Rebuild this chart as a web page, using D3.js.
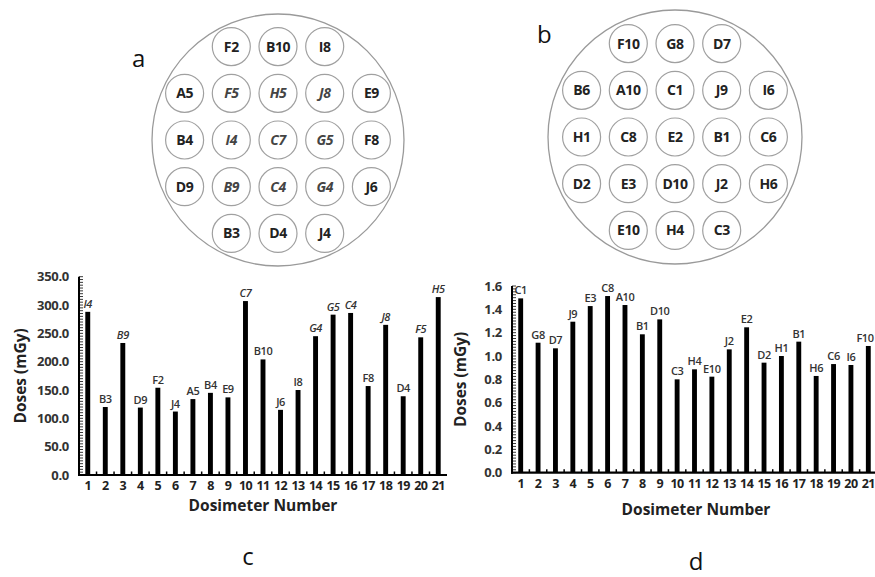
<!DOCTYPE html>
<html>
<head>
<meta charset="utf-8">
<script src="https://cdn.jsdelivr.net/npm/d3@7"></script>
<style>
  body { margin: 0; background: #fff; }
  svg { display: block; }
</style>
</head>
<body>
<script>
// layout of the phantom holes (row by row, null = empty)
const gridA = [
  [null, "F2", "B10", "I8", null],
  ["A5", "F5", "H5", "J8", "E9"],
  ["B4", "I4", "C7", "G5", "F8"],
  ["D9", "B9", "C4", "G4", "J6"],
  [null, "B3", "D4", "J4", null]
]
const italicA = ["F5", "H5", "J8", "I4", "C7", "G5", "B9", "C4", "G4"]

const gridB = [
  [null, "F10", "G8", "D7", null],
  ["B6", "A10", "C1", "J9", "I6"],
  ["H1", "C8", "E2", "B1", "C6"],
  ["D2", "E3", "D10", "J2", "H6"],
  [null, "E10", "H4", "C3", null]
]

// chart c
const dosimetersC = d3.range(1, 22)
const labelsC = ["I4", "B3", "B9", "D9", "F2", "J4", "A5", "B4", "E9", "C7", "B10",
  "J6", "I8", "G4", "G5", "C4", "F8", "J8", "D4", "F5", "H5"]
const dosesC = [288, 120, 233, 119, 154, 112, 134, 145, 137, 307, 204,
  115, 150, 245, 283, 286, 157, 265, 139, 243, 314]
const ticksC = [0, 50, 100, 150, 200, 250, 300, 350]

// chart d
const dosimetersD = d3.range(1, 22)
const labelsD = ["C1", "G8", "D7", "J9", "E3", "C8", "A10", "B1", "D10", "C3", "H4",
  "E10", "J2", "E2", "D2", "H1", "B1", "H6", "C6", "I6", "F10"]
const dosesD = [1.494, 1.114, 1.066, 1.294, 1.428, 1.514, 1.437, 1.186, 1.314, 0.80, 0.886,
  0.823, 1.057, 1.246, 0.943, 1.0, 1.123, 0.829, 0.931, 0.923, 1.086]
const ticksD = [0, 0.2, 0.4, 0.6, 0.8, 1.0, 1.2, 1.4, 1.6]

const width = 875, height = 577
const font = "'Open Sans', 'DejaVu Sans', sans-serif"

const svg = d3.select("body").append("svg")
  .attr("width", width)
  .attr("height", height)
  .style("font-family", font)

const drawPhantom = (grid, cx, cy, r, step, italics, letter, lx, ly) => {
  const g = svg.append("g")
  g.append("circle")
    .attr("cx", cx).attr("cy", cy).attr("r", r)
    .style("fill", "none").style("stroke", "#9a9a9a").style("stroke-width", 1.3)
  const cells = []
  grid.forEach((row, ri) => row.forEach((name, ci) => {
    if (name) cells.push({ name, ri, ci })
  }))
  const pos = d3.scaleLinear().domain([0, 4]).range([-2 * step, 2 * step])
  const cell = g.selectAll("g.cell").data(cells).enter().append("g")
    .attr("transform", d => `translate(${cx + pos(d.ci)},${cy + pos(d.ri)})`)
  cell.append("circle")
    .attr("r", 19)
    .style("fill", "none").style("stroke", "#a0a0a0").style("stroke-width", 1.2)
  cell.append("text")
    .attr("text-anchor", "middle")
    .attr("dy", "0.36em")
    .attr("font-size", 14)
    .attr("font-weight", "bold")
    .attr("letter-spacing", -0.4)
    .style("font-style", d => italics.includes(d.name) ? "italic" : "normal")
    .style("fill", d => italics.includes(d.name) ? "#444" : "#222")
    .text(d => d.name)
  svg.append("text")
    .attr("x", lx).attr("y", ly)
    .attr("font-size", 24)
    .style("fill", "#111")
    .text(letter)
}

drawPhantom(gridA, 278, 140, 126, 46.7, italicA, "a", 132, 67)
drawPhantom(gridB, 675, 137, 127, 46.7, [], "b", 537, 43)

const drawBars = (opt) => {
  const g = svg.append("g")
  const x = d3.scaleBand().domain(opt.cats).range([opt.x0, opt.x1]).paddingInner(0.72).paddingOuter(0.36)
  const y = d3.scaleLinear().domain([0, opt.max]).range([opt.y0, opt.y1])

  // bars
  g.selectAll("rect.bar").data(opt.values).enter().append("rect")
    .attr("x", (d, i) => x(opt.cats[i]))
    .attr("y", d => y(d))
    .attr("width", x.bandwidth())
    .attr("height", d => opt.y0 - y(d))
    .style("fill", "#000")

  // bar labels
  g.selectAll("text.lab").data(opt.values).enter().append("text")
    .attr("x", (d, i) => Math.min(x(opt.cats[i]) + x.bandwidth() / 2, width - 10))
    .attr("y", d => y(d) - 4)
    .attr("text-anchor", "middle")
    .attr("font-size", 11)
    .attr("font-weight", 600)
    .attr("letter-spacing", -0.4)
    .style("font-style", (d, i) => opt.italics.includes(opt.labels[i]) ? "italic" : "normal")
    .style("fill", "#333")
    .text((d, i) => opt.labels[i])

  // y axis, dense minor ticks pointing in
  const yAxis = g.append("g").attr("transform", `translate(${opt.x0},0)`)
  yAxis.selectAll("line.minor").data(d3.range(0, opt.max + opt.minor / 2, opt.minor)).enter()
    .append("line")
    .attr("x1", 0).attr("x2", 4)
    .attr("y1", d => y(d)).attr("y2", d => y(d))
    .style("stroke", "#222").style("stroke-width", 0.9)
  yAxis.append("line")
    .attr("x1", 0).attr("x2", 0).attr("y1", y(opt.max)).attr("y2", opt.y0 + 1)
    .style("stroke", "#000").style("stroke-width", 2)
  yAxis.selectAll("text").data(opt.ticks).enter().append("text")
    .attr("x", -10)
    .attr("y", d => y(d))
    .attr("dy", "0.35em")
    .attr("text-anchor", "end")
    .attr("font-size", 13)
    .attr("font-weight", "bold")
    .attr("letter-spacing", -0.3)
    .style("fill", "#333")
    .text(d => d3.format(opt.fmt)(d))

  // x axis
  const xAxis = g.append("g").attr("transform", `translate(0,${opt.y0})`)
  xAxis.append("line")
    .attr("x1", opt.x0 - 1).attr("x2", opt.x1).attr("y1", 0).attr("y2", 0)
    .style("stroke", "#000").style("stroke-width", 2.2)
  xAxis.selectAll("line.tk").data(opt.cats.slice(0, -1)).enter().append("line")
    .attr("x1", d => x(d) + x.bandwidth() / 2 + x.step() / 2)
    .attr("x2", d => x(d) + x.bandwidth() / 2 + x.step() / 2)
    .attr("y1", 0).attr("y2", -3.5)
    .style("stroke", "#000").style("stroke-width", 1.5)
  xAxis.selectAll("text").data(opt.cats).enter().append("text")
    .attr("x", d => x(d) + x.bandwidth() / 2)
    .attr("y", 15)
    .attr("text-anchor", "middle")
    .attr("font-size", 12.5)
    .attr("font-weight", "bold")
    .attr("letter-spacing", -0.6)
    .style("fill", "#222")
    .text(d => d)

  // titles
  svg.append("text")
    .attr("x", opt.xTitleX).attr("y", opt.xTitleY)
    .attr("text-anchor", "middle")
    .attr("font-size", 15.5)
    .attr("font-weight", "bold")
    .style("fill", "#222")
    .text("Dosimeter Number")
  svg.append("text")
    .attr("transform", `translate(${opt.yTitleX},${(opt.y0 + y(opt.max)) / 2}) rotate(-90)`)
    .attr("text-anchor", "middle")
    .attr("font-size", 15.5)
    .attr("font-weight", "bold")
    .style("fill", "#222")
    .text("Doses (mGy)")
  svg.append("text")
    .attr("x", opt.letterX).attr("y", opt.letterY)
    .attr("text-anchor", "middle")
    .attr("font-size", 24)
    .style("fill", "#111")
    .text(opt.letter)
}

drawBars({
  cats: dosimetersC, values: dosesC, labels: labelsC, italics: italicA,
  ticks: ticksC, max: 350, minor: 5, fmt: ".1f",
  x0: 79, x1: 447, y0: 475, y1: 276.7,
  xTitleX: 263, xTitleY: 511, yTitleX: 26,
  letter: "c", letterX: 248, letterY: 565
})

drawBars({
  cats: dosimetersD, values: dosesD, labels: labelsD, italics: [],
  ticks: ticksD, max: 1.6, minor: 0.025, fmt: ".1f",
  x0: 512, x1: 877, y0: 472.7, y1: 286,
  xTitleX: 696, xTitleY: 515, yTitleX: 466,
  letter: "d", letterX: 696, letterY: 570
})
</script>
</body>
</html>
